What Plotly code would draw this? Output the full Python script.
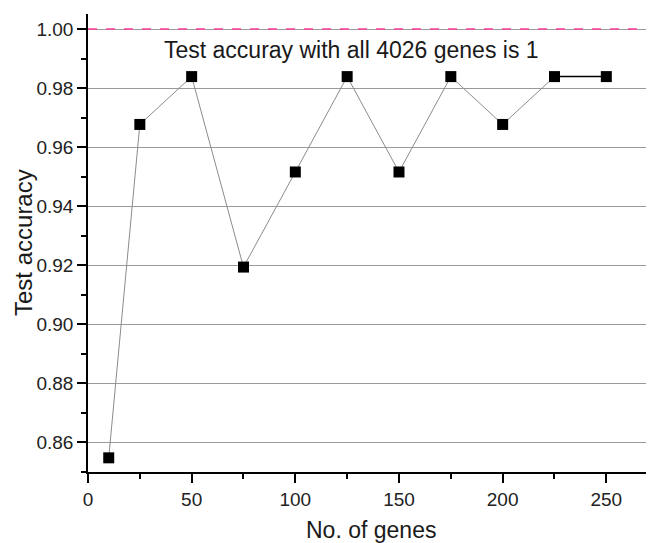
import plotly.graph_objects as go

genes = [10, 25, 50, 75, 100, 125, 150, 175, 200, 225, 250]
accuracy = [0.8548, 0.9677, 0.9839, 0.9194, 0.9516, 0.9839, 0.9516, 0.9839, 0.9677, 0.9839, 0.9839]
all_genes_accuracy = 1.0
note_text = "Test accuray with all 4026 genes is 1"
x_title = "No. of genes"
y_title = "Test accuracy"

FONT = "Arial, Liberation Sans, sans-serif"

fig = go.Figure()

# reference line at 1.00
fig.add_trace(go.Scatter(
    x=[0, 273], y=[all_genes_accuracy, all_genes_accuracy], mode="lines",
    line=dict(color="#ff3c9a", width=1.6, dash="9px,9px"),
    hoverinfo="skip", showlegend=False, cliponaxis=False))

# main line (gray), all but last segment
fig.add_trace(go.Scatter(
    x=genes[:-1], y=accuracy[:-1], mode="lines",
    line=dict(color="#8c8c8c", width=1),
    showlegend=False))

# last segment in black
fig.add_trace(go.Scatter(
    x=genes[-2:], y=accuracy[-2:], mode="lines",
    line=dict(color="#000000", width=1.5),
    showlegend=False))

# markers
fig.add_trace(go.Scatter(
    x=genes, y=accuracy, mode="markers",
    marker=dict(symbol="square", size=11, color="#000000",
                line=dict(width=0)),
    showlegend=False, cliponaxis=False))

fig.add_annotation(
    x=127, y=0.9929, xref="x", yref="y", text=note_text, showarrow=False,
    font=dict(family=FONT, size=23, color="#1a1a1a"))

# axis titles as positioned annotations
fig.add_annotation(
    x=0.5, y=0, xref="paper", yref="paper", xanchor="center", yanchor="middle",
    yshift=-58, text=x_title, showarrow=False,
    font=dict(family=FONT, size=23, color="#1a1a1a"))
fig.add_annotation(
    x=0, y=0.5, xref="paper", yref="paper", xanchor="center", yanchor="middle",
    xshift=-65, textangle=-90, text=y_title, showarrow=False,
    font=dict(family=FONT, size=24, color="#1a1a1a"))

fig.update_layout(
    width=646, height=535,
    margin=dict(l=80, r=0, t=6, b=71, autoexpand=False),
    paper_bgcolor="white", plot_bgcolor="white",
    font=dict(family=FONT, color="#222222"),
    xaxis=dict(
        range=[0, 273], showgrid=False, zeroline=False, automargin=False,
        showline=True, linecolor="#000000", linewidth=1.5,
        ticks="outside", ticklen=9, tickwidth=1.5, tickcolor="#000000",
        tick0=0, dtick=50,
        minor=dict(ticks="outside", ticklen=5, tickwidth=1.5, tickcolor="#000000",
                   tick0=0, dtick=25, showgrid=False),
        tickfont=dict(family=FONT, size=19, color="#222222"),
    ),
    yaxis=dict(
        range=[0.85, 1.0051], showgrid=True, gridcolor="#9a9a9a", gridwidth=1,
        zeroline=False, automargin=False,
        showline=True, linecolor="#000000", linewidth=1.5,
        ticks="outside", ticklen=9, tickwidth=1.5, tickcolor="#000000",
        tick0=0.86, dtick=0.02, tickformat=".2f",
        minor=dict(ticks="outside", ticklen=5, tickwidth=1.5, tickcolor="#000000",
                   tick0=0.85, dtick=0.01, showgrid=False),
        tickfont=dict(family=FONT, size=19, color="#222222"),
    ),
)

fig.write_html("out.html")
